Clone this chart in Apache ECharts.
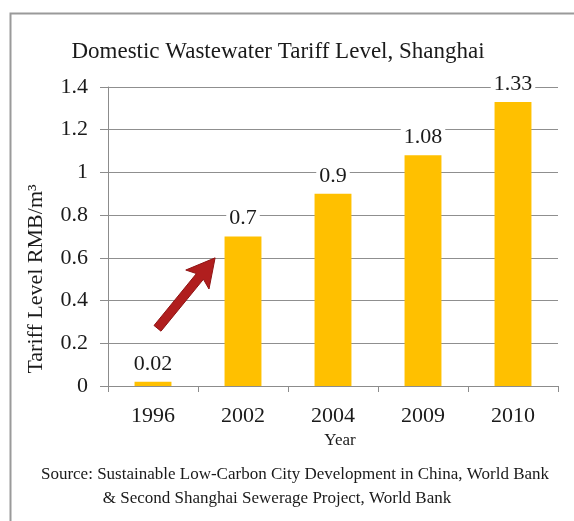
<!DOCTYPE html>
<html><head><meta charset="utf-8">
<script src="https://cdn.jsdelivr.net/npm/echarts@6/dist/echarts.min.js"></script>
<style>html,body{margin:0;padding:0;background:#fff}#c{width:574px;height:521px}</style>
</head><body><div id="c"></div>
<script>
const categories = ['1996', '2002', '2004', '2009', '2010'];
const tariffValues = [0.02, 0.7, 0.9, 1.08, 1.33];
const yTicks = { min: 0, max: 1.4, interval: 0.2 };
const titleText = 'Domestic Wastewater Tariff Level, Shanghai';
const yAxisTitle = 'Tariff Level RMB/m\u00B3';
const xAxisTitle = 'Year';
const sourceLines = ['Source: Sustainable Low-Carbon City Development in China, World Bank',
                     '& Second Shanghai Sewerage Project, World Bank'];
// arrow annotation in data space: [category index, value]
const arrowTail = [0.05, 0.27];
const arrowTip = [0.69, 0.60];

const SERIF = '"Liberation Serif", "Times New Roman", serif';
const chart = echarts.init(document.getElementById('c'), null, {renderer: 'canvas'});
chart.setOption({
  animation: false,
  backgroundColor: '#fff',
  grid: {left: 108, right: 16, top: 87, bottom: 135},
  xAxis: {
    type: 'category', data: categories,
    axisLine: {show: true, lineStyle: {color: '#8c8c8c', width: 1}},
    axisTick: {show: true, length: 6, inside: false, lineStyle: {color: '#8c8c8c'}},
    axisLabel: {fontFamily: SERIF, fontSize: 22, color: '#1a1a1a', margin: 19}
  },
  yAxis: {
    type: 'value', min: yTicks.min, max: yTicks.max, interval: yTicks.interval,
    axisLine: {show: true, lineStyle: {color: '#8c8c8c', width: 1}},
    axisTick: {show: true, length: 8, lineStyle: {color: '#8c8c8c'}},
    splitLine: {show: true, lineStyle: {color: '#8f8f8f', width: 1}},
    axisLabel: {fontFamily: SERIF, fontSize: 22, color: '#1a1a1a', margin: 20}
  },
  series: [{
    type: 'bar', data: tariffValues, barWidth: '41%',
    itemStyle: {color: '#FFC000'},
    label: {show: true, position: 'top', distance: 7, fontFamily: SERIF, fontSize: 22,
      color: '#1a1a1a', backgroundColor: '#fff', padding: [0, 3, 0, 3]}
  }]
});

function toPx(pt) {
  const x0 = chart.convertToPixel({xAxisIndex: 0}, 0);
  const x1 = chart.convertToPixel({xAxisIndex: 0}, 1);
  const y = chart.convertToPixel({yAxisIndex: 0}, pt[1]);
  return [x0 + (x1 - x0) * pt[0], y];
}
const t = toPx(arrowTail), h = toPx(arrowTip);
const dx = h[0] - t[0], dy = h[1] - t[1], L = Math.hypot(dx, dy);
const ux = dx / L, uy = dy / L, nx = -uy, ny = ux;
const sw = 4.5, hw = 15, hl = 24;
const P = (a, b) => [t[0] + ux * a + nx * b, t[1] + uy * a + ny * b];
const pts = [P(0, sw), P(L - hl, sw), P(L - hl - 4, hw), P(L, 0), P(L - hl - 4, -hw), P(L - hl, -sw), P(0, -sw)];
chart.setOption({graphic: [
  {type: 'polyline', shape: {points: [[10.5, 521], [10.5, 13.5], [574, 13.5]]}, style: {stroke: '#9a9a9a', lineWidth: 2, fill: null}},
  {type: 'text', x: 278, y: 52, style: {text: titleText, font: '23px ' + SERIF, fill: '#1a1a1a', align: 'center', verticalAlign: 'middle'}},
  {type: 'text', x: 340, y: 441, style: {text: xAxisTitle, font: '17px ' + SERIF, fill: '#1a1a1a', align: 'center', verticalAlign: 'middle'}},
  {type: 'text', x: 295, y: 475, style: {text: sourceLines[0], font: '17px ' + SERIF, fill: '#1a1a1a', align: 'center', verticalAlign: 'middle'}},
  {type: 'text', x: 277, y: 499, style: {text: sourceLines[1], font: '17px ' + SERIF, fill: '#1a1a1a', align: 'center', verticalAlign: 'middle'}},
  {type: 'text', x: 36, y: 279, rotation: Math.PI / 2, style: {text: yAxisTitle, font: '22px ' + SERIF, fill: '#1a1a1a', align: 'center', verticalAlign: 'middle'}},
  {type: 'polygon', shape: {points: pts}, style: {fill: '#B01E1E', stroke: '#8f1414', lineWidth: 1, lineJoin: 'round'}}
]}, {replaceMerge: ['graphic']});
</script></body></html>
